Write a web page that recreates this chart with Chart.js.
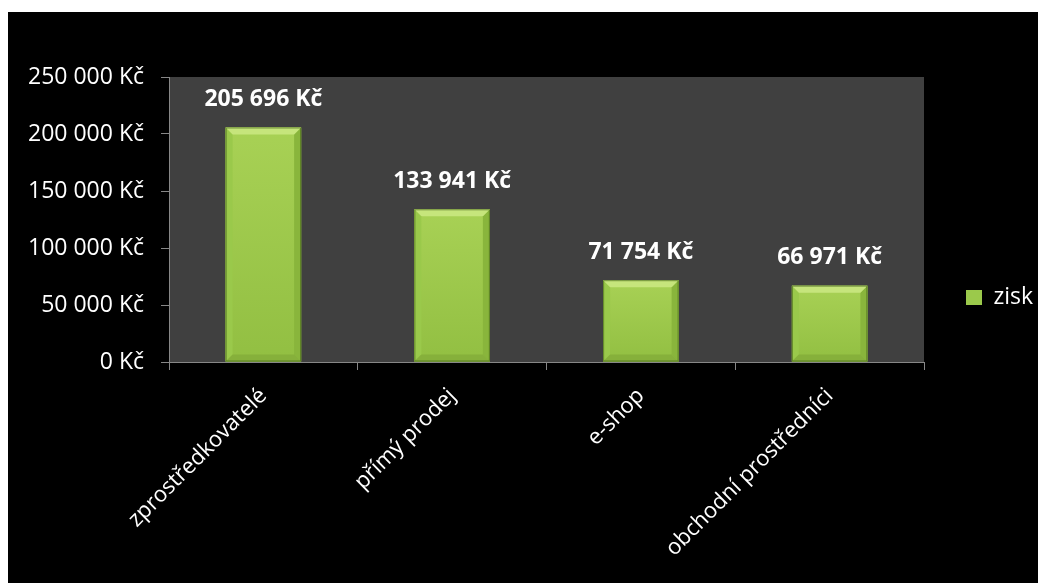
<!DOCTYPE html>
<html><head><meta charset="utf-8">
<script src="https://cdn.jsdelivr.net/npm/chart.js@4"></script>
<style>
html,body{margin:0;padding:0;background:#fff;width:1038px;height:583px;overflow:hidden;}
#wrap{position:absolute;left:8px;top:12px;width:1030px;height:571px;background:#000;}
canvas{display:block;}
</style></head><body>
<div id="wrap"><canvas id="c" width="1030" height="571"></canvas></div>
<script>
const categories = ['zprostředkovatelé', 'přímý prodej', 'e-shop', 'obchodní prostředníci'];
const seriesName = 'zisk';
const ziskValues = [205696, 133941, 71754, 66971];
const yTickValues = [0, 50000, 100000, 150000, 200000, 250000];

function formatKc(v) {
  return String(Math.round(v)).replace(/\B(?=(\d{3})+(?!\d))/g, ' ') + ' Kč';
}

const FONT = '"Open Sans", "Noto Sans", sans-serif';
const AXIS_COLOR = '#878787';

const plotBg = {
  id: 'plotBg',
  beforeDraw(chart) {
    const {ctx, chartArea: a} = chart;
    ctx.save();
    ctx.fillStyle = '#404040';
    ctx.fillRect(a.left, a.top, a.right - a.left, a.bottom - a.top);
    ctx.restore();
  }
};

const bevelAndLabels = {
  id: 'bevelAndLabels',
  afterDatasetsDraw(chart) {
    const ctx = chart.ctx;
    const meta = chart.getDatasetMeta(0);
    meta.data.forEach((bar, i) => {
      const p = bar.getProps(['x', 'y', 'base', 'width'], true);
      const l = p.x - p.width / 2, r = p.x + p.width / 2, t = p.y, b = p.base;
      const bv = 7;
      ctx.save();
      const g = ctx.createLinearGradient(0, t, 0, b);
      g.addColorStop(0, '#a8d155');
      g.addColorStop(1, '#92bf42');
      ctx.fillStyle = g;
      ctx.fillRect(l, t, r - l, b - t);
      ctx.fillStyle = '#9ac94b';
      ctx.beginPath(); ctx.moveTo(l, t); ctx.lineTo(l + bv, t + bv); ctx.lineTo(l + bv, b - bv); ctx.lineTo(l, b); ctx.closePath(); ctx.fill();
      ctx.fillStyle = '#89b53c';
      ctx.beginPath(); ctx.moveTo(r, t); ctx.lineTo(r - bv, t + bv); ctx.lineTo(r - bv, b - bv); ctx.lineTo(r, b); ctx.closePath(); ctx.fill();
      ctx.fillStyle = '#86b03b';
      ctx.beginPath(); ctx.moveTo(l, b); ctx.lineTo(l + bv, b - bv); ctx.lineTo(r - bv, b - bv); ctx.lineTo(r, b); ctx.closePath(); ctx.fill();
      ctx.fillStyle = '#c6e57c';
      ctx.beginPath(); ctx.moveTo(l, t); ctx.lineTo(r, t); ctx.lineTo(r - bv, t + bv); ctx.lineTo(l + bv, t + bv); ctx.closePath(); ctx.fill();
      ctx.strokeStyle = 'rgba(60,90,20,0.6)';
      ctx.lineWidth = 1;
      ctx.strokeRect(l + 0.5, t + 0.5, r - l - 1, b - t - 1);
      ctx.fillStyle = '#ffffff';
      ctx.font = 'bold 23px ' + FONT;
      ctx.textAlign = 'center';
      ctx.textBaseline = 'middle';
      ctx.fillText(formatKc(ziskValues[i]), p.x, t - 28);
      ctx.restore();
    });
  }
};

new Chart(document.getElementById('c'), {
  type: 'bar',
  data: {
    labels: categories,
    datasets: [{
      label: seriesName,
      data: ziskValues,
      backgroundColor: '#9bc94b',
      borderColor: '#7fa836',
      borderWidth: 0,
      categoryPercentage: 1.0,
      barPercentage: 0.4
    }]
  },
  options: {
    responsive: false,
    animation: false,
    devicePixelRatio: 1,
    layout: { padding: { top: 0, bottom: 0, left: 0, right: 0 } },
    plugins: {
      legend: {
        position: 'right',
        maxWidth: 114,
        labels: {
          color: '#ffffff',
          font: { family: FONT, size: 23 },
          boxWidth: 16,
          boxHeight: 15,
          padding: 42
        }
      },
      tooltip: { enabled: false }
    },
    scales: {
      x: {
        grid: { offset: true, drawOnChartArea: false, drawTicks: true, tickLength: 8, color: AXIS_COLOR },
        border: { display: true, color: AXIS_COLOR, width: 1 },
        ticks: {
          color: '#ffffff',
          font: { family: FONT, size: 22 },
          minRotation: 45,
          maxRotation: 45,
          autoSkip: false,
          padding: 13
        },
        afterFit(s) { s.height = 221; }
      },
      y: {
        min: 0,
        max: 250000,
        grid: { drawOnChartArea: false, drawTicks: true, tickLength: 8, color: AXIS_COLOR },
        border: { display: true, color: AXIS_COLOR, width: 1 },
        ticks: {
          color: '#ffffff',
          font: { family: FONT, size: 23 },
          padding: 17,
          callback: (v) => formatKc(v)
        },
        afterBuildTicks(s) { s.ticks = yTickValues.map(v => ({ value: v })); },
        afterFit(s) { s.width = 161; s.paddingTop = 65; }
      }
    }
  },
  plugins: [plotBg, bevelAndLabels]
});
</script>
</body></html>
